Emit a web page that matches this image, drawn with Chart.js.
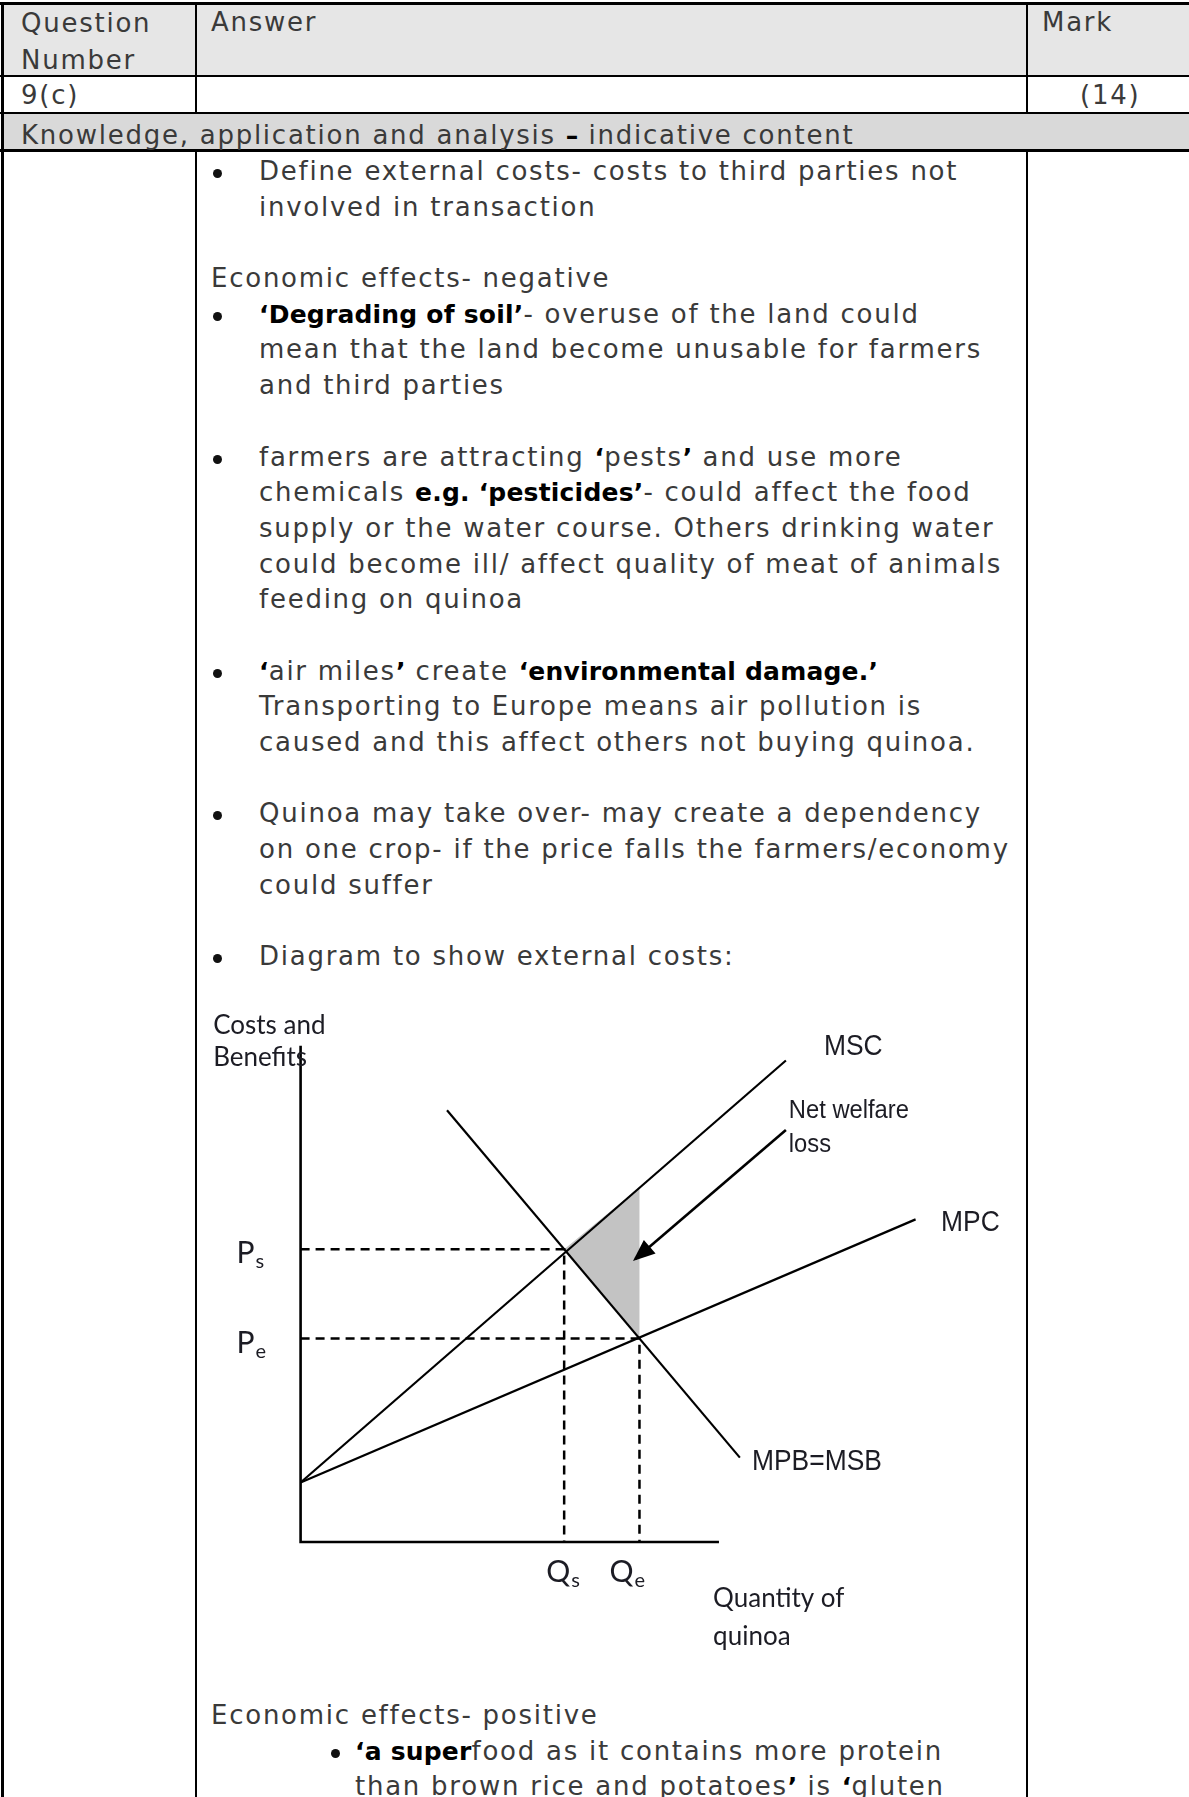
<!DOCTYPE html>
<html>
<head>
<meta charset="utf-8">
<script src="https://cdn.jsdelivr.net/npm/chart.js@4.4.0/dist/chart.umd.min.js"></script>
<style>
  body { margin: 0; width: 1189px; height: 1797px; overflow: hidden; background: #fff; position: relative;
         font-family: "DejaVu Sans", sans-serif; color: #3a3a3a; }
  .box { position: absolute; }
  .t { position: absolute; font-size: 26px; letter-spacing: 1.75px; line-height: 35.7px; white-space: nowrap; }
  .t b { font-weight: bold; color: #000; font-size: 25px; letter-spacing: 0.2px; }
  .ln { position: relative; padding-left: 48px; height: 35.7px; }
  .ln.flat { padding-left: 0; }
  .bu { position: absolute; left: 2px; top: 15px; width: 9px; height: 9px; border-radius: 50%; background: #111; }
  #diagram { position: absolute; left: 196px; top: 996px; }
</style>
</head>
<body>
<!-- cell backgrounds -->
<div class="box" style="left:2px;top:4px;width:1187px;height:72px;background:#e6e6e6"></div>
<div class="box" style="left:2px;top:114px;width:1187px;height:35px;background:#d9d9d9"></div>
<!-- table rules -->
<div class="box" style="left:0;top:2px;width:1189px;height:3px;background:#000"></div>
<div class="box" style="left:1px;top:2px;width:3px;height:1795px;background:#000"></div>
<div class="box" style="left:195px;top:2px;width:2px;height:112px;background:#000"></div>
<div class="box" style="left:1026px;top:2px;width:2px;height:112px;background:#000"></div>
<div class="box" style="left:195px;top:149px;width:2px;height:1648px;background:#000"></div>
<div class="box" style="left:1026px;top:149px;width:2px;height:1648px;background:#000"></div>
<div class="box" style="left:0;top:75px;width:1189px;height:2px;background:#000"></div>
<div class="box" style="left:0;top:112px;width:1189px;height:2px;background:#000"></div>
<div class="box" style="left:0;top:149px;width:1189px;height:3px;background:#000"></div>

<div class="t" style="left:21px;top:5px;line-height:36.5px">Question<br>Number</div>
<div class="t" style="left:211px;top:5px">Answer</div>
<div class="t" style="left:1042px;top:5px">Mark</div>
<div class="t" style="left:21px;top:78px">9(c)</div>
<div class="t" style="left:1080px;top:78px">(14)</div>
<div class="t" style="left:21px;top:118px">Knowledge, application and analysis <b>–</b> indicative content</div>

<div class="t" style="left:211px;top:154px">
  <div class="ln"><span class="bu"></span>Define external costs- costs to third parties not</div>
  <div class="ln">involved in transaction</div>
  <div class="ln"></div>
  <div class="ln flat">Economic effects- negative</div>
  <div class="ln"><span class="bu"></span><b>‘Degrading of soil’</b>- overuse of the land could</div>
  <div class="ln">mean that the land become unusable for farmers</div>
  <div class="ln">and third parties</div>
  <div class="ln"></div>
  <div class="ln"><span class="bu"></span>farmers are attracting <b>‘</b>pests<b>’</b> and use more</div>
  <div class="ln">chemicals <b>e.g. ‘pesticides’</b>- could affect the food</div>
  <div class="ln">supply or the water course. Others drinking water</div>
  <div class="ln">could become ill/ affect quality of meat of animals</div>
  <div class="ln">feeding on quinoa</div>
  <div class="ln"></div>
  <div class="ln"><span class="bu"></span><b>‘</b>air miles<b>’</b> create <b>‘environmental damage.’</b></div>
  <div class="ln">Transporting to Europe means air pollution is</div>
  <div class="ln">caused and this affect others not buying quinoa.</div>
  <div class="ln"></div>
  <div class="ln"><span class="bu"></span>Quinoa may take over- may create a dependency</div>
  <div class="ln">on one crop- if the price falls the farmers/economy</div>
  <div class="ln">could suffer</div>
  <div class="ln"></div>
  <div class="ln"><span class="bu"></span>Diagram to show external costs:</div>
</div>

<div class="t" style="left:211px;top:1698px">
  <div class="ln flat">Economic effects- positive</div>
  <div class="ln" style="padding-left:144px"><span class="bu" style="left:120px"></span><b>‘a super</b>food as it contains more protein</div>
  <div class="ln" style="padding-left:144px">than brown rice and potatoes<b>’</b> is <b>‘</b>gluten</div>
</div>

<canvas id="diagram" width="820" height="690"></canvas>

<script>
// values (axes run 0..100 in both directions)
const axisEnd = 100;
const mscPoints = [[0, 12], [116, 97]];
const mpcPoints = [[0, 12], [147, 65]];
const mpbPoints = [[35, 87], [105, 17]];
const lossArea = [[63, 59], [81, 71.4], [81, 41], [63, 59]];
const arrowPoints = [[116, 83], [80, 57]];

// Qs, Qe and Ps, Pe
const quantityTicks = [63, 81];
const quantityTickLabels = [["Q", "s"], ["Q", "e"]];
const priceTicks = [59, 41];
const priceTickLabels = [["P", "s"], ["P", "e"]];

// curve names and axis titles
const curveNames = ["MSC", "Net welfare", "loss", "MPC", "MPB=MSB"];
const curveNameAt = [[125.1, 98.1], [116.7, 85.4], [116.7, 78.6], [153.1, 62.7], [107.9, 14.5]];
const yTitle = ["Costs and", "Benefits"];
const xTitle = ["Quantity of", "quinoa"];

const pts = (a) => a.map(([x, y]) => ({ x, y }));

const line = (data, extra) => Object.assign({
  data: data,
  showLine: true,
  fill: false,
  borderColor: "#000",
  borderWidth: 2.2,
  pointRadius: 0,
  tension: 0,
}, extra);

const datasets = [
  line(pts(lossArea), { fill: "shape", backgroundColor: "#c3c3c3", borderWidth: 0, order: 10 }),
  line([{ x: 0, y: axisEnd }, { x: 0, y: 0 }, { x: axisEnd, y: 0 }], { borderWidth: 2.6 }),
  line(pts(mscPoints)),
  line(pts(mpcPoints)),
  line(pts(mpbPoints)),
];
priceTicks.forEach((p, i) => {
  datasets.push(line([{ x: 0, y: p }, { x: quantityTicks[i], y: p }, { x: quantityTicks[i], y: 0 }],
    { borderDash: [9, 6], borderWidth: 2.5 }));
});
datasets.push(line(pts(arrowPoints), { borderWidth: 2.6 }));
const arrowIndex = datasets.length - 1;

function subText(ctx, main, sub, x, y, size) {
  ctx.font = size + "px Lato";
  ctx.fillText(main, x, y);
  const w = ctx.measureText(main).width;
  ctx.font = Math.round(size * 0.66) + "px Lato";
  ctx.fillText(sub, x + w + 1, y + 5);
}

// arrow head at the end of the "Net welfare loss" pointer
const arrowHead = {
  id: "arrowHead",
  afterDatasetsDraw(chart) {
    const ctx = chart.ctx;
    const [a, b] = chart.getDatasetMeta(arrowIndex).data;
    const ang = Math.atan2(b.y - a.y, b.x - a.x);
    ctx.save();
    ctx.translate(b.x, b.y);
    ctx.rotate(ang);
    ctx.fillStyle = "#000";
    ctx.beginPath();
    ctx.moveTo(3, 0);
    ctx.lineTo(-19, -9);
    ctx.lineTo(-19, 9);
    ctx.closePath();
    ctx.fill();
    ctx.restore();
  },
};

const textLabels = {
  id: "textLabels",
  afterDraw(chart) {
    const { ctx, scales: { x, y } } = chart;
    ctx.save();
    ctx.fillStyle = "#1c1c24";
    ctx.textBaseline = "alphabetic";
    ctx.textAlign = "left";
    curveNames.forEach((t, i) => {
      const small = i === 1 || i === 2;
      ctx.save();
      ctx.translate(x.getPixelForValue(curveNameAt[i][0]), y.getPixelForValue(curveNameAt[i][1]));
      ctx.scale(small ? 0.95 : 0.88, 1);
      ctx.font = (small ? 25 : 30) + 'px "Liberation Sans"';
      ctx.fillText(t, 0, 0);
      ctx.restore();
    });
    ctx.font = "26px Lato";
    ctx.fillText(yTitle[0], x.getPixelForValue(-20.9), y.getPixelForValue(102.3));
    ctx.fillText(yTitle[1], x.getPixelForValue(-20.9), y.getPixelForValue(95.9));
    ctx.fillText(xTitle[0], x.getPixelForValue(98.6), y.getPixelForValue(-13.1));
    ctx.fillText(xTitle[1], x.getPixelForValue(98.6), y.getPixelForValue(-20.7));
    const x0 = x.getPixelForValue(0);
    const y0 = y.getPixelForValue(0);
    priceTicks.forEach((p, i) => {
      subText(ctx, priceTickLabels[i][0], priceTickLabels[i][1], x0 - 64, y.getPixelForValue(p) + 14, 30);
    });
    const shift = [-18, -30];
    quantityTicks.forEach((q, i) => {
      subText(ctx, quantityTickLabels[i][0], quantityTickLabels[i][1], x.getPixelForValue(q) + shift[i], y0 + 40, 30);
    });
    ctx.restore();
  },
};

new Chart(document.getElementById("diagram"), {
  type: "scatter",
  data: { datasets: datasets },
  options: {
    responsive: false,
    devicePixelRatio: 1,
    animation: false,
    events: [],
    layout: { padding: 0 },
    scales: {
      x: { type: "linear", display: false, min: -25, max: 171 },
      y: { type: "linear", display: false, min: -29, max: 110 },
    },
    plugins: { legend: { display: false }, tooltip: { enabled: false } },
  },
  plugins: [arrowHead, textLabels],
});
</script>
</body>
</html>
